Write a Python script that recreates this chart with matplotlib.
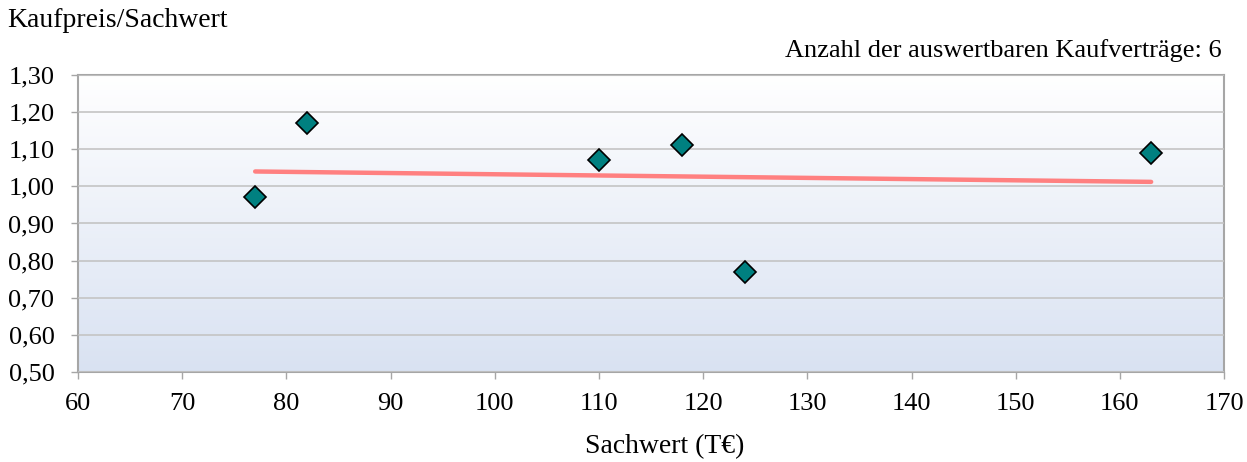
import numpy as np
import matplotlib.pyplot as plt

# data
sachwert = [77, 82, 110, 118, 124, 163]
ratio = [0.97, 1.17, 1.07, 1.11, 0.77, 1.09]
trend_x = [77, 163]
trend_y = [1.04, 1.012]
x_ticks = list(range(60, 171, 10))
y_ticks = [0.5, 0.6, 0.7, 0.8, 0.9, 1.0, 1.1, 1.2, 1.3]

plt.rcParams["font.family"] = ["Liberation Serif", "DejaVu Serif"]
plt.rcParams["font.size"] = 19

fig = plt.figure(figsize=(12.47, 4.62), dpi=100)
ax = fig.add_axes([0.0626, 0.1948, 0.919, 0.643])

ax.set_xlim(60, 170)
ax.set_ylim(0.5, 1.3)

# background gradient, white at top to pale blue at bottom
grad = np.linspace(0, 1, 256).reshape(-1, 1)
top = np.array([1.0, 1.0, 1.0])
bottom = np.array([0xd9, 0xe2, 0xf2]) / 255
img = top * (1 - grad[..., None]) + bottom * grad[..., None]
img = img.reshape(256, 1, 3)
ax.imshow(img, extent=[0, 1, 0, 1], transform=ax.transAxes, aspect="auto",
          zorder=0)

ax.set_yticks(y_ticks)
ax.set_yticklabels([f"{v:.2f}".replace(".", ",") for v in y_ticks])
ax.set_xticks(x_ticks)
ax.grid(axis="y", color="#c4c4c4", lw=1.2, zorder=1)
ax.set_axisbelow(False)

for s in ax.spines.values():
    s.set_color("#a6a6a6")
    s.set_linewidth(1.5)
    s.set_zorder(2)
ax.tick_params(direction="out", length=5, width=1, color="#a6a6a6",
               labelsize=19)
ax.tick_params(axis="x", pad=10)
ax.tick_params(axis="y", pad=12)

ax.plot(trend_x, trend_y, color="#ff8080", lw=3.2, solid_capstyle="round",
        zorder=3)
ax.plot(sachwert, ratio, ls="none", marker="D", markersize=11,
        markerfacecolor="#008080", markeredgecolor="black",
        markeredgewidth=1.2, zorder=4)

fig.text(0.006, 0.955, "Kaufpreis/Sachwert", ha="left", va="center",
         fontsize=20)
fig.text(0.98, 0.89, "Anzahl der auswertbaren Kaufverträge: 6",
         ha="right", va="center", fontsize=19)
fig.text(0.533, 0.033, "Sachwert (T€)", ha="center", va="center",
         fontsize=20)

fig.savefig("out.png", dpi=100)
